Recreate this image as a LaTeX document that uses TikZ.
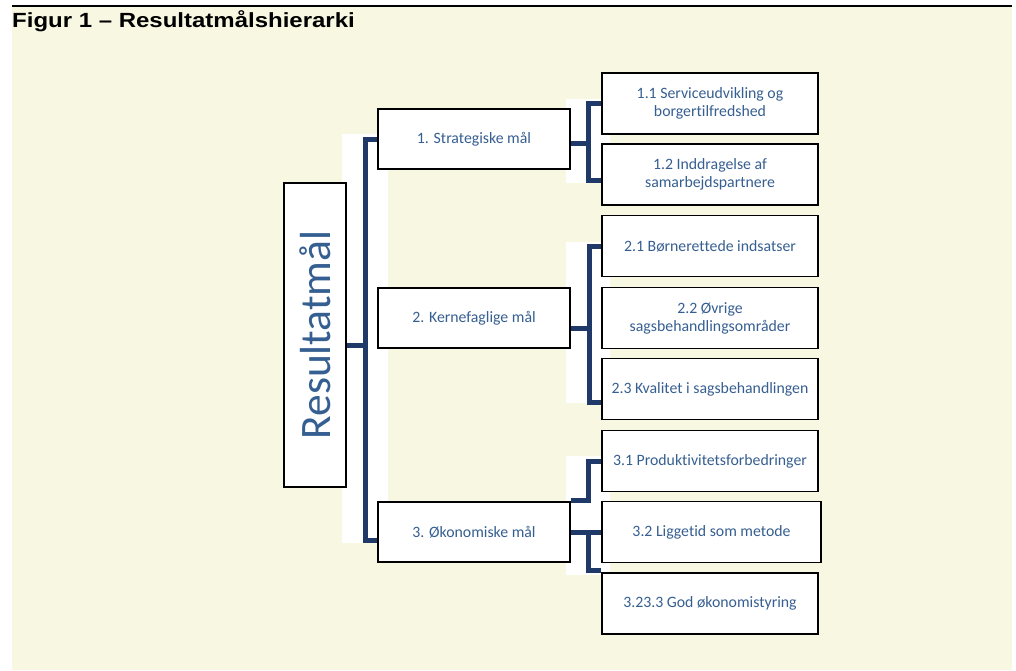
\documentclass[tikz,border=0pt]{standalone}
\usepackage{fontspec}
\usepackage{graphicx}
\setmainfont[Ligatures=NoCommon]{Carlito}
\newfontfamily\titlefont[FakeStretch=1.17]{Liberation Sans}
\usetikzlibrary{positioning}
\definecolor{cream}{RGB}{248,247,225}
\definecolor{linkblue}{RGB}{31,58,104}
\definecolor{textblue}{RGB}{54,95,145}
\tikzset{
  goalbox/.style={draw=black, line width=1.6pt, fill=white, text=textblue, align=center,
    minimum width=192pt, minimum height=60pt, inner sep=2pt,
    font=\fontsize{15.8}{18}\selectfont},
  subbox/.style={goalbox, minimum width=216pt, minimum height=61pt},
  link/.style={draw=linkblue, line width=5pt},
}
\begin{document}
\begin{tikzpicture}[x=1pt,y=-1pt]
\useasboundingbox (0,0) rectangle (1016,670);
% background and title
\fill[cream] (12,7) rectangle (1012,670);
\draw[line width=2pt] (12,6)--(1012,6);
\node[anchor=base west, inner sep=0pt, font=\titlefont\bfseries\fontsize{20.5}{22}\selectfont] (title) at (12,27) {Figur 1 – Resultatmålshierarki};
% white patches behind the brackets
\fill[white] (342,134) rectangle (388,543);
\fill[white] (566,99) rectangle (610,183);
\fill[white] (566,242) rectangle (610,403);
\fill[white] (566,456) rectangle (610,575);
% boxes
\node[draw=black, line width=1.6pt, fill=white, text=textblue, minimum width=62pt, minimum height=304pt, inner sep=0pt] (res) at (315,335) {\rotatebox{90}{\fontsize{43.5}{44}\selectfont Resultatmål}};
\node[goalbox] (g1) at (474,139) {1. Strategiske mål};
\node[goalbox] (g2) at (474,318) {2. Kernefaglige mål};
\node[goalbox] (g3) at (474,532) {3. Økonomiske mål};
\node[subbox] (s11) at (710,103.5) {1.1 Serviceudvikling og\\borgertilfredshed};
\node[subbox] (s12) at (710,174.5) {1.2 Inddragelse af\\samarbejdspartnere};
\node[subbox] (s21) at (710,246) {2.1 Børnerettede indsatser};
\node[subbox] (s22) at (710,318) {2.2 Øvrige\\sagsbehandlingsområder};
\node[subbox] (s23) at (710,389) {2.3 Kvalitet i sagsbehandlingen};
\node[subbox] (s31) at (710,461) {3.1 Produktivitetsforbedringer};
\node[subbox, minimum width=219pt] (s32) at (711.5,532) {3.2 Liggetid som metode};
\node[subbox] (s33) at (710,603.5) {3.23.3 God økonomistyring};
% brackets
\coordinate (trunk) at (365,345);
\draw[link] ([yshift=-10pt]res.east) -- (trunk);
\draw[link] (g1.west) -| (trunk) |- ([yshift=-8pt]g3.west);
\coordinate (fork1) at (588,143);
\draw[link] ([yshift=-4pt]g1.east) -- (fork1);
\draw[link] (s11.west) -| (fork1) |- ([yshift=-5.5pt]s12.west);
\coordinate (fork2) at (589,328);
\draw[link] ([yshift=-10pt]g2.east) -- (fork2);
\draw[link] (s21.west) -| (fork2) |- ([yshift=-13pt]s23.west);
\coordinate (fork3) at (588,532);
\draw[link] ([yshift=32pt]g3.east) -| (s31.west -| fork3) -- (s31.west);
\draw[link] (g3.east) -- (s32.west);
\draw[link] (fork3) |- ([yshift=2pt]s33.north west);
\end{tikzpicture}
\end{document}
